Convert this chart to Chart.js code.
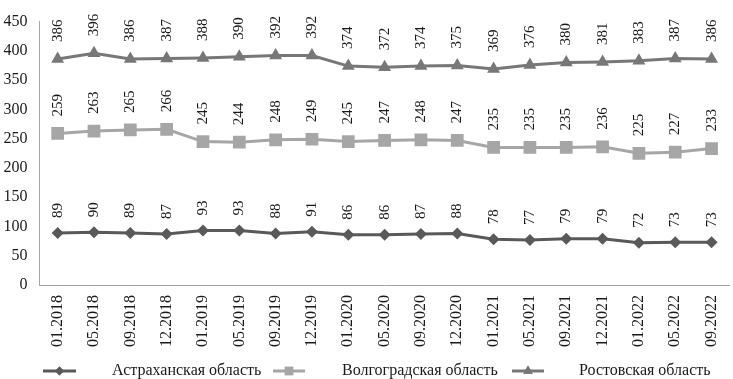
<!DOCTYPE html>
<html>
<head>
<meta charset="utf-8">
<script src="https://cdn.jsdelivr.net/npm/chart.js@4"></script>
<style>
html,body{margin:0;padding:0;background:#fff;overflow:hidden;width:733px;height:379px;}
#wrap{position:absolute;left:0;top:0;width:741px;height:379px;}
</style>
</head>
<body>
<div id="wrap"><canvas id="c" width="741" height="379"></canvas></div>
<script>
const categories = ["01.2018","05.2018","09.2018","12.2018","01.2019","05.2019","09.2019","12.2019","01.2020","05.2020","09.2020","12.2020","01.2021","05.2021","09.2021","12.2021","01.2022","05.2022","09.2022"];
const astrakhan = [89,90,89,87,93,93,88,91,86,86,87,88,78,77,79,79,72,73,73];
const volgograd = [259,263,265,266,245,244,248,249,245,247,248,247,235,235,235,236,225,227,233];
const rostov = [386,396,386,387,388,390,392,392,374,372,374,375,369,376,380,381,383,387,386];
const seriesNames = ["Астраханская область","Волгоградская область","Ростовская область"];
const yTicks = [0,50,100,150,200,250,300,350,400,450];

const FONT = "'Liberation Serif','Times New Roman',serif";
const TEXT = "#1a1a1a";
const colors = ["#595959","#a6a6a6","#777777"];
const styles = ["rectRot","rect","triangle"];
const radii = [6,9,7.5];
const labelGap = [15,17,17];

const dataLabels = {
  id:'dataLabels',
  afterDatasetsDraw(chart){
    const ctx = chart.ctx;
    chart.data.datasets.forEach((ds,i)=>{
      const meta = chart.getDatasetMeta(i);
      meta.data.forEach((pt,j)=>{
        ctx.save();
        ctx.translate(pt.x, pt.y - labelGap[i]);
        ctx.rotate(-Math.PI/2);
        ctx.font = "15px " + FONT;
        ctx.fillStyle = TEXT;
        ctx.textAlign = 'left';
        ctx.textBaseline = 'middle';
        ctx.fillText(String(ds.data[j]), 0, 0);
        ctx.restore();
      });
    });
  }
};

const legendPlugin = {
  id:'customLegend',
  afterDraw(chart){
    const ctx = chart.ctx;
    const y = 371;
    const lines = [[43,76,112],[273,305,342],[512,544,579]];
    lines.forEach((l,i)=>{
      ctx.save();
      ctx.strokeStyle = colors[i];
      ctx.lineWidth = 3;
      ctx.beginPath();
      ctx.moveTo(l[0],y); ctx.lineTo(l[1],y); ctx.stroke();
      ctx.fillStyle = colors[i];
      Chart.helpers.drawPoint(ctx,{pointStyle:styles[i],radius:[4.5,6,5.5][i],rotation:0,borderWidth:0},(l[0]+l[1])/2,y);
      ctx.fill();
      ctx.font = "16px " + FONT;
      ctx.fillStyle = TEXT;
      ctx.textAlign = 'left';
      ctx.textBaseline = 'middle';
      ctx.fillText(seriesNames[i], l[2], y);
      ctx.restore();
    });
  }
};

const mk = (name,data,i)=>({
  label:name, data:data,
  borderColor:colors[i], backgroundColor:colors[i],
  borderWidth:3, pointStyle:styles[i], pointRadius:radii[i],
  pointBackgroundColor:colors[i], pointBorderColor:colors[i], pointBorderWidth:0,
  tension:0
});

new Chart(document.getElementById('c'),{
  type:'line',
  data:{labels:categories,datasets:[mk(seriesNames[0],astrakhan,0),mk(seriesNames[1],volgograd,1),mk(seriesNames[2],rostov,2)]},
  options:{
    responsive:false, animation:false,
    layout:{padding:{top:6,right:0,left:0,bottom:0}},
    plugins:{legend:{display:false},tooltip:{enabled:false}},
    scales:{
      x:{
        offset:true,
        grid:{display:false,drawTicks:false},
        border:{display:true,color:"#a6a6a6",width:1},
        ticks:{font:{family:FONT,size:16},color:TEXT,minRotation:90,maxRotation:90,padding:10,autoSkip:false},
        afterFit(s){s.height = 94;}
      },
      y:{
        min:0,max:450,
        afterBuildTicks(s){s.ticks = yTicks.map(v=>({value:v}));},
        grid:{display:false,drawTicks:false},
        border:{display:true,color:"#a6a6a6",width:1},
        ticks:{font:{family:FONT,size:16},color:TEXT,padding:12},
        afterFit(s){s.width = 39.5;}
      }
    }
  },
  plugins:[dataLabels,legendPlugin]
});
</script>
</body>
</html>
